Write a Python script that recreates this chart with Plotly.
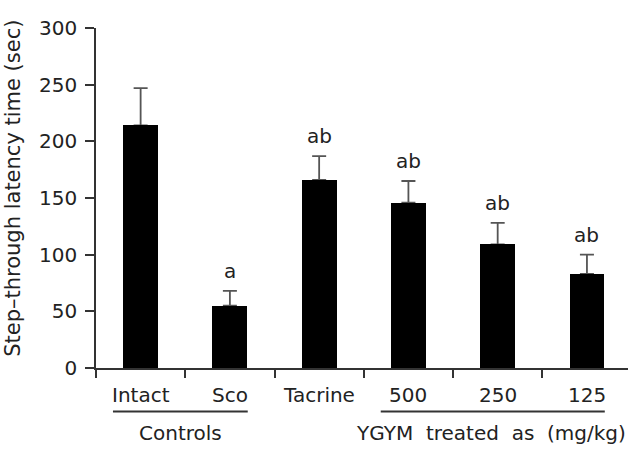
import plotly.graph_objects as go

categories = ["Intact", "Sco", "Tacrine", "500", "250", "125"]
latency = [214, 55, 166, 146, 109, 83]
sem = [33, 13, 21, 19, 19, 17]
letters = ["", "a", "ab", "ab", "ab", "ab"]
y_ticks = [0, 50, 100, 150, 200, 250, 300]
groups = [("Controls", 0, 1), ("YGYM\u00a0\u00a0treated\u00a0\u00a0as\u00a0\u00a0(mg/kg)", 3, 5)]

FONT = "DejaVu Sans"
TXT = "#222222"
xs = list(range(len(categories)))

fig = go.Figure()
# error bars (drawn under the bars so the lower cap is hidden)
fig.add_trace(go.Scatter(
    x=xs, y=latency, mode="markers", marker=dict(size=1, color="rgba(0,0,0,0)"),
    error_y=dict(type="data", array=sem, arrayminus=[0] * len(sem), symmetric=False,
                 color="#555555", thickness=1.8, width=7),
    showlegend=False, hoverinfo="skip", yaxis="y",
))
fig.add_trace(go.Bar(
    x=xs, y=latency, width=0.39,
    marker=dict(color="black", line=dict(width=0)),
    showlegend=False, yaxis="y2",
))

annotations = []
for i, (v, e, t) in enumerate(zip(latency, sem, letters)):
    if t:
        annotations.append(dict(x=i, y=v + e, xref="x", yref="y", text=t, showarrow=False,
                                yanchor="middle", yshift=20,
                                font=dict(family=FONT, size=20, color=TXT)))
for i, c in enumerate(categories):
    annotations.append(dict(x=i, y=-0.079, xref="x", yref="paper", text=c, showarrow=False,
                            yanchor="middle", font=dict(family=FONT, size=20, color=TXT)))

shapes = []
for name, a, b in groups:
    shapes.append(dict(type="line", xref="x", yref="paper", x0=a - 0.31, x1=b + 0.2,
                       y0=-0.128, y1=-0.128, line=dict(color="#333333", width=2)))
    if a == 0:
        annotations.append(dict(x=(a + b) / 2 - 0.05, y=-0.19, xref="x", yref="paper", text=name,
                                showarrow=False, yanchor="middle",
                                font=dict(family=FONT, size=20, color=TXT)))
    else:
        annotations.append(dict(x=a - 0.61, y=-0.19, xref="x", yref="paper", text=name,
                                showarrow=False, yanchor="middle", xanchor="left",
                                font=dict(family=FONT, size=20, color=TXT)))

annotations.append(dict(x=-0.156, y=0.527, xref="paper", yref="paper", xanchor="center",
                        yanchor="middle", text="Step\u2013through latency time (sec)",
                        textangle=-90, showarrow=False,
                        font=dict(family=FONT, size=21, color=TXT)))

axis_common = dict(range=[0, 300], showgrid=False, zeroline=False, fixedrange=True)

fig.update_layout(
    width=628, height=449,
    margin=dict(l=96, r=0, t=28, b=81),
    paper_bgcolor="white", plot_bgcolor="white",
    bargap=0,
    annotations=annotations, shapes=shapes,
    xaxis=dict(range=[-0.5, 5.46], showgrid=False, zeroline=False,
               showline=True, linecolor="#333333", linewidth=1.5,
               tickvals=xs, ticktext=[""] * len(xs), ticks="",
               minor=dict(tickmode="array", tickvals=[i - 0.5 for i in xs],
                          ticks="outside", ticklen=8, tickcolor="#333333", tickwidth=1.5),
               fixedrange=True),
    yaxis=dict(**axis_common, tickvals=y_ticks,
               showline=True, linecolor="#333333", linewidth=1.5,
               ticks="outside", ticklen=9, tickcolor="#333333", tickwidth=1.5,
               tickfont=dict(family=FONT, size=20, color=TXT),
               ticklabelstandoff=4),
    yaxis2=dict(**axis_common, overlaying="y", showticklabels=False, showline=False,
                ticks=""),
)

fig.write_html("out.html")
